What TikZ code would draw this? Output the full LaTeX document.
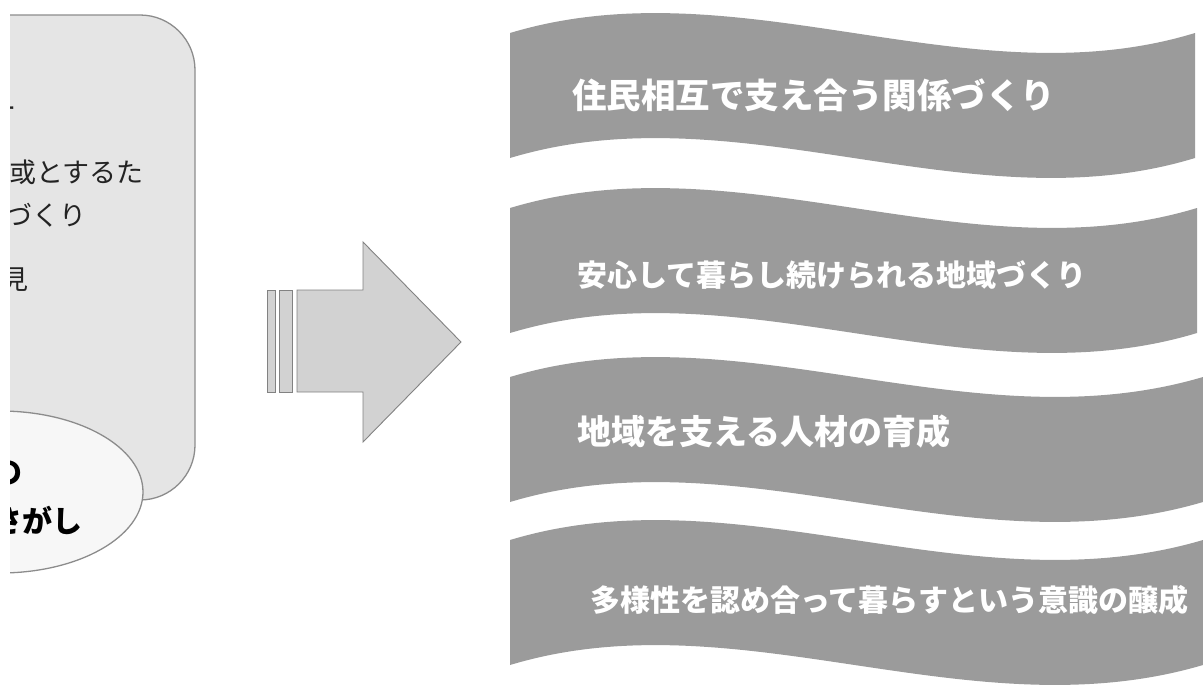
\documentclass[tikz,border=0pt]{standalone}
\usepackage{fontspec}
\setmainfont{Noto Sans CJK JP}
\definecolor{boxfill}{RGB}{229,229,229}
\definecolor{boxline}{RGB}{140,140,140}
\definecolor{ellfill}{RGB}{247,247,247}
\definecolor{bannerfill}{RGB}{155,155,155}
\definecolor{arrowfill}{RGB}{210,210,210}
\definecolor{arrowline}{RGB}{130,130,130}
\definecolor{inktext}{RGB}{35,35,35}
\tikzset{
  leftbox/.style={fill=boxfill,draw=boxline,line width=1.3pt},
  leftell/.style={fill=ellfill,draw=boxline,line width=1.3pt},
  leftline/.style={anchor=west,inner sep=0pt,text=inktext,font=\fontsize{27}{30}\selectfont},
  elltext/.style={anchor=west,inner sep=0pt,text=black,font=\fontsize{30}{34}\selectfont\bfseries},
  bannershape/.style={fill=bannerfill},
  bannertext/.style={anchor=west,inner sep=0pt,text=white},
  blockarrow/.style={fill=arrowfill,draw=arrowline,line width=0.9pt,line join=miter},
}
\begin{document}
\begin{tikzpicture}[x=1pt,y=-1pt]
\useasboundingbox (0,0) rectangle (1203,689);
% left panel (cropped at its left side)
\begin{scope}
  \clip (10,0) rectangle (250,689);
  \draw[leftbox,rounded corners=55pt] (-60,15) rectangle (195,500);
  \node[leftline] (l1) at (-11,113) {ー};
  \node[leftline] (l2) at (9,172) {或とするた};
  \node[leftline] (l3) at (5,215) {づくり};
  \node[leftline] (l4) at (1,280) {見};
  \draw[leftell] (0,492) ellipse [x radius=143, y radius=81];
  \node[elltext] (e1) at (-8,473) {の};
  \node[elltext] (e2) at (-8,520) {さがし};
\end{scope}
% block arrow
\draw[blockarrow] (267,290) rectangle (275,392);
\draw[blockarrow] (279,290) rectangle (292,392);
\draw[blockarrow] (297,290) -- (363,290) -- (363,242) -- (461,342) -- (363,442) -- (363,392) -- (297,392) -- cycle;
% wavy banners
\foreach \yy/\rr in {33/1195, 208/1197, 377/1203, 540/1203}{
  \fill[bannershape] (510,\yy) .. controls (739,\yy-69) and (969,\yy+69) .. (\rr,\yy)
     -- (\rr,\yy+125) .. controls (969,\yy+194) and (739,\yy+56) .. (510,\yy+125) -- cycle;
}
\node[bannertext,font=\fontsize{34.5}{38}\selectfont\bfseries] (b1) at (572,95) {住民相互で支え合う関係づくり};
\node[bannertext,font=\fontsize{30}{34}\selectfont\bfseries] (b2) at (577,275) {安心して暮らし続けられる地域づくり};
\node[bannertext,font=\fontsize{34}{38}\selectfont\bfseries] (b3) at (577,432) {地域を支える人材の育成};
\node[bannertext,font=\fontsize{30}{34}\selectfont\bfseries] (b4) at (590,600) {多様性を認め合って暮らすという意識の醸成};
\end{tikzpicture}
\end{document}
